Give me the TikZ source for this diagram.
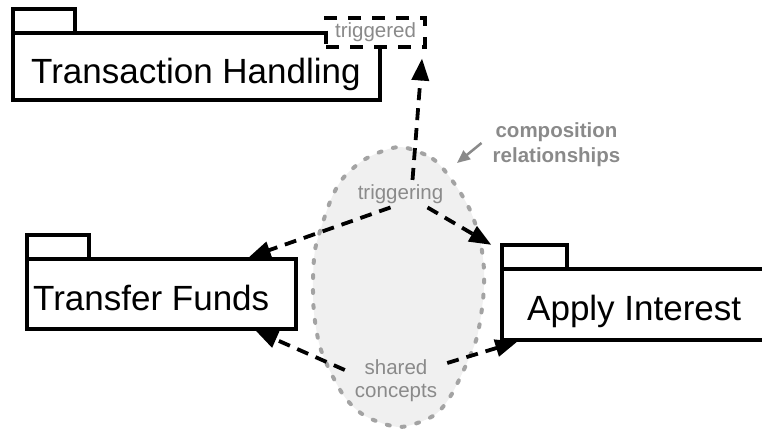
\documentclass[tikz,border=0pt]{standalone}
\usepackage{fontspec}
\setmainfont{Liberation Sans}
\usetikzlibrary{arrows.meta}
\definecolor{notegray}{HTML}{8A8A8A}
\definecolor{blobfill}{HTML}{F0F0F0}
\definecolor{blobline}{HTML}{A3A3A3}

\begin{document}
\begin{tikzpicture}[x=1pt,y=-1pt,
  pkg/.style={draw=black,line width=3.3pt,inner sep=0pt,fill=white},
  pkgname/.style={font=\fontsize{35}{40}\selectfont,inner sep=0pt,anchor=base west},
  note/.style={font=\fontsize{20.5}{23}\selectfont,text=notegray,inner sep=0pt},
  flow/.style={line width=3.8pt,dash pattern=on 12pt off 8pt,
    -{Triangle[length=22pt,width=17pt]}},
  pointer/.style={draw=notegray,line width=2.5pt,-{Triangle[length=13pt,width=11pt]}}
]
\useasboundingbox (0,0) rectangle (762,429);
\clip (0,0) rectangle (762,429);

% shared area behind the packages
\fill[blobfill] plot[smooth cycle] coordinates {
  (400,147) (433,159) (454,183) (470,210) (480,240) (484,270) (483,300)
  (477,337) (466,365) (450,397) (433,416) (400,427) (367,417) (347,400)
  (333,377) (320,347) (314,313) (313,280) (315,250) (322,225) (332,197)
  (344,177) (367,158)};
\draw[blobline,line width=4pt,line cap=round,dash pattern=on 3pt off 12pt]
  plot[smooth cycle] coordinates {
  (400,147) (433,159) (454,183) (470,210) (480,240) (484,270) (483,300)
  (477,337) (466,365) (450,397) (433,416) (400,427) (367,417) (347,400)
  (333,377) (320,347) (314,313) (313,280) (315,250) (322,225) (332,197)
  (344,177) (367,158)};
\coordinate (blobedge) at (457,163);

% package: Transaction Handling
\node[pkg,minimum width=62pt,minimum height=24pt] (thtab) at (44,21) {};
\node[pkg,minimum width=367pt,minimum height=67pt] (thbody) at (196.5,66.5) {};
\node[pkgname] (thname) at (31,83) {Transaction Handling};
\node[draw=black,fill=white,line width=4pt,dash pattern=on 13pt off 11pt,
  minimum width=99pt,minimum height=29pt,inner sep=0pt,
  font=\fontsize{20.5}{23}\selectfont,text=notegray] (trigd) at (375.5,32) {triggered};

% package: Transfer Funds
\node[pkg,minimum width=62pt,minimum height=24pt] (tftab) at (58,247) {};
\node[pkg,minimum width=269pt,minimum height=70pt] (tfbody) at (161.5,294) {};
\node[pkgname] (tfname) at (33,310) {Transfer Funds};

% package: Apply Interest
\node[pkg,minimum width=65pt,minimum height=24pt] (aitab) at (534.5,257) {};
\node[pkg,minimum width=298pt,minimum height=71pt] (aibody) at (651,304.5) {};
\node[pkgname] (ainame) at (527,320) {Apply Interest};

% labels inside the shared area
\node[note,inner sep=4pt,anchor=base] (trig) at (400.5,199) {triggering};
\node[note,align=center] (shared) at (396,381) {shared\\concepts};
\node[font=\bfseries\fontsize{20.5}{25}\selectfont,text=notegray,align=center,
  inner sep=0pt] (comp) at (556.5,145) {composition\\relationships};

% triggering relationships
\draw[flow] ([xshift=12pt]trig.north) -- ([xshift=46.5pt,yshift=-10pt]trigd.south);
\draw[flow] ([xshift=-10pt]trig.south) -- ([xshift=-49pt]tfbody.north east);
\draw[flow] ([xshift=27pt]trig.south) -- ([xshift=-9pt,yshift=-1.5pt]aitab.north west);

% shared-concept relationships
\draw[flow] ([xshift=-10pt,yshift=11pt]shared.west) -- ([xshift=-42pt]tfbody.south east);
\draw[flow] ([xshift=10pt,yshift=18pt]shared.east) -- ([xshift=17pt]aibody.south west);

% callout
\draw[pointer] ([xshift=-11pt,yshift=2pt]comp.west) -- (blobedge);
\end{tikzpicture}
\end{document}
